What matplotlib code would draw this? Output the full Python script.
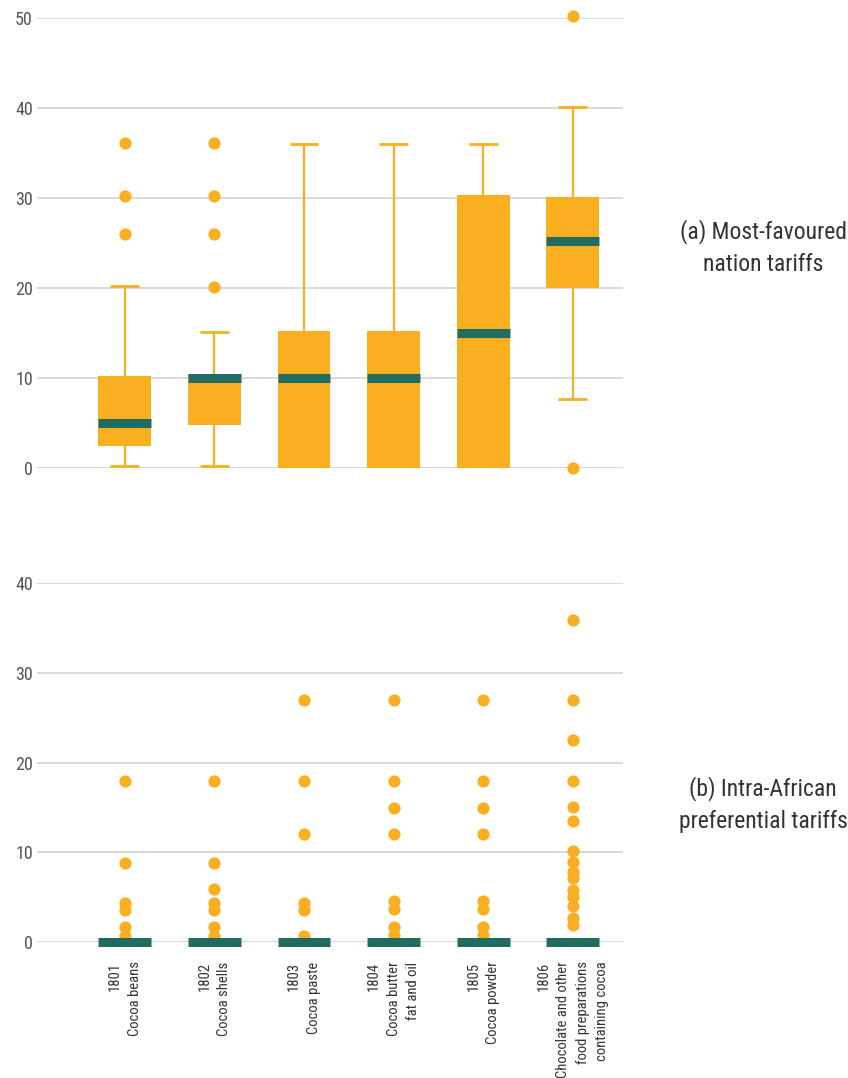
import matplotlib
matplotlib.use("Agg")
import matplotlib.pyplot as plt
from matplotlib import font_manager as fm

# ---------------- data ----------------
codes = ["1801", "1802", "1803", "1804", "1805", "1806"]
names = ["Cocoa beans", "Cocoa shells", "Cocoa paste", "Cocoa butter\nfat and oil",
         "Cocoa powder", "Chocolate and other\nfood preparations\ncontaining cocoa"]

# (a) Most-favoured nation tariffs
mfn_whislo = [0.2, 0.2, 0.0, 0.0, 0.0, 7.7]
mfn_q1 = [2.4, 4.8, 0.0, 0.0, 0.0, 20.0]
mfn_med = [5.0, 10.0, 10.0, 10.0, 15.0, 25.2]
mfn_q3 = [10.2, 10.5, 15.2, 15.2, 30.3, 30.1]
mfn_whishi = [20.2, 15.1, 36.0, 36.0, 36.0, 40.1]
mfn_fliers = [[36.1, 30.2, 26.0], [36.1, 30.2, 26.0, 20.1], [], [], [], [50.2, 0.0]]

# (b) Intra-African preferential tariffs
afr_whislo = [0, 0, 0, 0, 0, 0]
afr_q1 = [0, 0, 0, 0, 0, 0]
afr_med = [0, 0, 0, 0, 0, 0]
afr_q3 = [0, 0, 0, 0, 0, 0]
afr_whishi = [0, 0, 0, 0, 0, 0]
afr_fliers = [
    [17.9, 8.8, 4.4, 3.6, 1.7, 0.7],
    [17.9, 8.8, 5.9, 4.4, 3.6, 1.7, 0.7],
    [27.0, 17.9, 12.0, 4.4, 3.6, 0.7],
    [27.0, 17.9, 14.9, 12.0, 4.6, 3.7, 1.7, 0.8],
    [27.0, 17.9, 14.9, 12.0, 4.6, 3.7, 1.7, 0.8],
    [35.9, 27.0, 22.5, 17.9, 15.0, 13.5, 10.1, 8.9, 7.8, 7.1, 5.8, 5.0, 4.0, 2.7, 1.9],
]

panel_titles = ["(a) Most-favoured\nnation tariffs", "(b) Intra-African\npreferential tariffs"]

# ---------------- style ----------------
avail = {f.name for f in fm.fontManager.ttflist}
font = "DejaVu Sans"
for cand in ["Roboto Condensed", "Liberation Sans Narrow", "Open Sans Condensed", "Roboto"]:
    if cand in avail:
        font = cand
        break
plt.rcParams["font.family"] = [font, "DejaVu Sans"]

ORANGE = "#F9AF1F"
TEAL = "#226B60"
GRID = "#D3D3D3"

W, H = 848, 1078
fig = plt.figure(figsize=(W / 100, H / 100), dpi=100)

def px_axes(left, right, top, bottom):
    return fig.add_axes([left / W, 1 - bottom / H, (right - left) / W, (bottom - top) / H])

def make_stats(wl, q1, md, q3, wh, fl):
    return [dict(whislo=a, q1=b, med=c, q3=d, whishi=e, fliers=f)
            for a, b, c, d, e, f in zip(wl, q1, md, q3, wh, fl)]

positions = list(range(len(codes)))

def draw(ax, stats, ymax, step):
    arts = ax.bxp(stats, positions=positions, widths=0.59, capwidths=0.32,
                  patch_artist=True, showfliers=True, manage_ticks=False,
                  boxprops=dict(facecolor=ORANGE, edgecolor="none", linewidth=0, zorder=2),
                  medianprops=dict(color=TEAL, linewidth=6.5, solid_capstyle="butt", zorder=4),
                  whiskerprops=dict(color=ORANGE, linewidth=1.6, zorder=1.8),
                  capprops=dict(color=ORANGE, linewidth=2.0, solid_capstyle="butt", zorder=1.8),
                  flierprops=dict(marker="o", markerfacecolor=ORANGE, markeredgecolor="none",
                                  markersize=8.8, zorder=3))
    for k in arts:
        for a in arts[k]:
            a.set_clip_on(False)
    # hide caps/whiskers of zero length
    for i, s in enumerate(stats):
        if s["whislo"] == s["q1"]:
            arts["caps"][2 * i].set_visible(False)
            arts["whiskers"][2 * i].set_visible(False)
        if s["whishi"] == s["q3"]:
            arts["caps"][2 * i + 1].set_visible(False)
            arts["whiskers"][2 * i + 1].set_visible(False)
    ax.set_xlim(-0.98, 5.56)
    ax.set_ylim(0, ymax)
    ax.set_yticks(range(0, ymax + 1, step))
    ax.grid(axis="y", color=GRID, linewidth=1.2, zorder=0)
    ax.set_axisbelow(True)
    for s in ax.spines.values():
        s.set_visible(False)
    ax.tick_params(axis="y", length=0, pad=3, labelsize=13, labelcolor="#555555")
    ax.tick_params(axis="x", length=0)

ax1 = px_axes(37, 623, 18, 468)
draw(ax1, make_stats(mfn_whislo, mfn_q1, mfn_med, mfn_q3, mfn_whishi, mfn_fliers), 50, 10)
ax1.set_xticks([])

ax2 = px_axes(37, 623, 583, 942)
draw(ax2, make_stats(afr_whislo, afr_q1, afr_med, afr_q3, afr_whishi, afr_fliers), 40, 10)
ax2.set_xticks(positions)
ax2.set_xticklabels([f"{c}\n{n}" for c, n in zip(codes, names)], rotation=90,
                    ha="center", va="top", multialignment="right",
                    fontsize=10.5, color="#333333", linespacing=1.5)
ax2.tick_params(axis="x", pad=14)

fig.text(763 / W, 1 - 247.5 / H, panel_titles[0], ha="center", va="center",
         multialignment="center", fontsize=17, color="#333333", linespacing=1.5)
fig.text(763 / W, 1 - 805 / H, panel_titles[1], ha="center", va="center",
         multialignment="center", fontsize=17, color="#333333", linespacing=1.5)

fig.savefig("out.png", dpi=100, facecolor="white")
